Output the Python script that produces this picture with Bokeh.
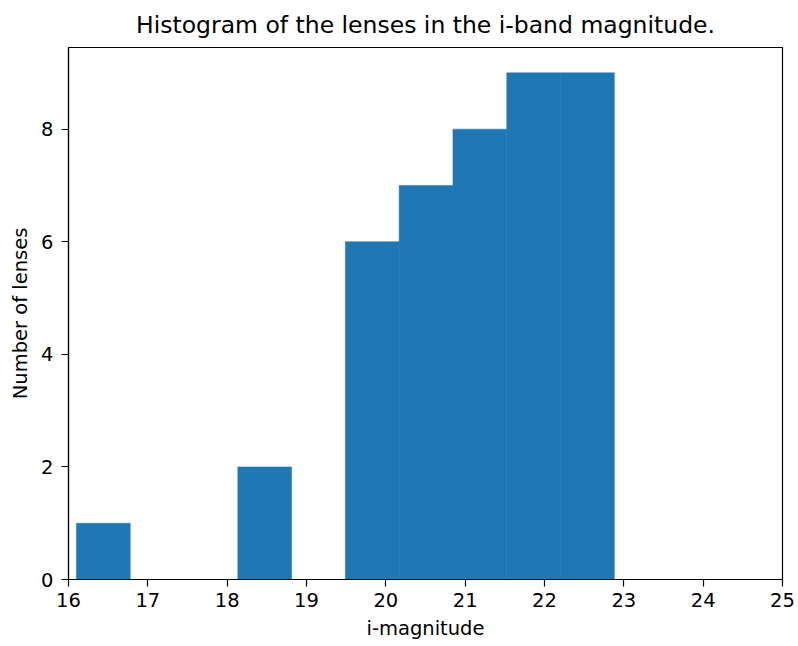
from bokeh.plotting import figure
from bokeh.embed import file_html
from bokeh.resources import INLINE
from bokeh.models import FixedTicker

# Histogram bin edges (i-band magnitude) and counts per bin
bin_edges = [16.10, 16.778, 17.456, 18.134, 18.812, 19.49, 20.168, 20.846, 21.524, 22.202, 22.88]
counts = [1, 0, 0, 2, 0, 6, 7, 8, 9, 9]
x_ticks = [16, 17, 18, 19, 20, 21, 22, 23, 24, 25]
y_ticks = [0, 2, 4, 6, 8]

FONT = "DejaVu Sans"

p = figure(
    width=798, height=646,
    x_range=(16, 25), y_range=(0, 9.45),
    output_backend="svg", toolbar_location=None,
    min_border_left=68, min_border_right=16,
    min_border_top=46, min_border_bottom=67,
    title="Histogram of the lenses in the i-band magnitude.",
)

p.quad(left=bin_edges[:-1], right=bin_edges[1:], bottom=0, top=counts,
       fill_color="#1f77b4", line_color="#1f77b4", line_width=0.5)

p.title.align = "center"
p.title.text_font = FONT
p.title.text_font_size = "23.5px"
p.title.text_font_style = "normal"
p.title.text_color = "black"
p.title.standoff = 17

p.xgrid.visible = False
p.ygrid.visible = False
p.outline_line_color = "black"
p.outline_line_width = 1.2
p.background_fill_color = "white"
p.border_fill_color = "white"

p.xaxis.ticker = FixedTicker(ticks=x_ticks)
p.yaxis.ticker = FixedTicker(ticks=y_ticks)
p.xaxis.axis_label = "i-magnitude"
p.yaxis.axis_label = "Number of lenses"

for ax in (p.xaxis[0], p.yaxis[0]):
    ax.axis_line_color = "black"
    ax.axis_line_width = 1.2
    ax.major_tick_line_color = "black"
    ax.major_tick_line_width = 1.2
    ax.major_tick_out = 7
    ax.major_tick_in = 0
    ax.minor_tick_line_color = None
    ax.major_label_text_font = FONT
    ax.major_label_text_font_size = "19.5px"
    ax.major_label_text_color = "black"
    ax.axis_label_text_font = FONT
    ax.axis_label_text_font_size = "19.5px"
    ax.axis_label_text_font_style = "normal"
    ax.axis_label_text_color = "black"

p.xaxis.major_label_standoff = 6
p.xaxis.axis_label_standoff = 7
p.yaxis.major_label_standoff = 8
p.yaxis.axis_label_standoff = 6

open("out.html", "w").write(file_html(p, INLINE))
